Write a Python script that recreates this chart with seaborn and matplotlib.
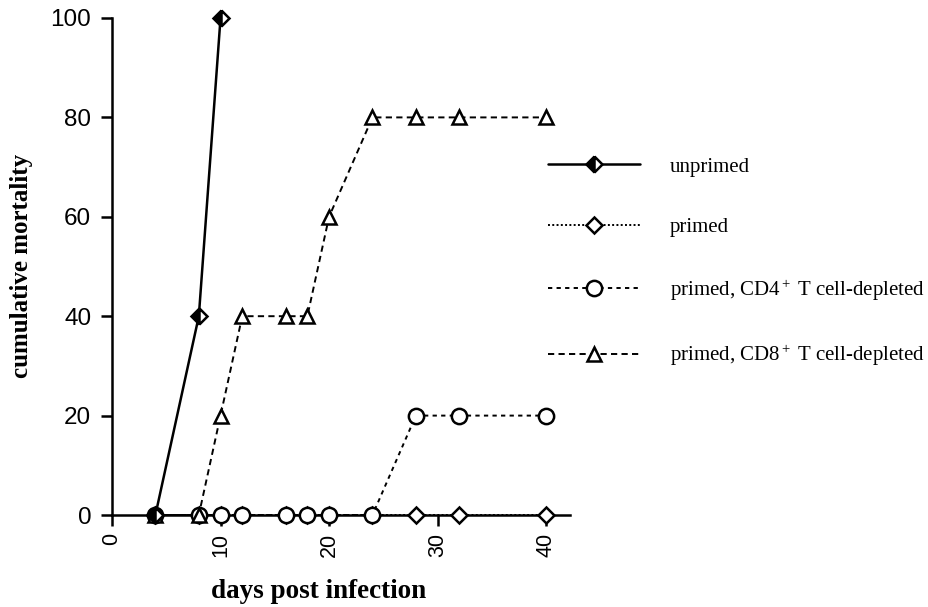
import matplotlib
matplotlib.use("Agg")
import matplotlib.pyplot as plt
import seaborn as sns
import pandas as pd

# ---- data ----
days_unprimed = [4, 8, 10]
mort_unprimed = [0, 40, 100]

days_primed = [4, 8, 10, 12, 16, 18, 20, 24, 28, 32, 40]
mort_primed = [0, 0, 0, 0, 0, 0, 0, 0, 0, 0, 0]

days_cd4 = [4, 8, 10, 12, 16, 18, 20, 24, 28, 32, 40]
mort_cd4 = [0, 0, 0, 0, 0, 0, 0, 0, 20, 20, 20]

days_cd8 = [4, 8, 10, 12, 16, 18, 20, 24, 28, 32, 40]
mort_cd8 = [0, 0, 20, 40, 40, 40, 60, 80, 80, 80, 80]

labels = ["unprimed", "primed",
          r"primed, CD4$^+$ T cell-depleted",
          r"primed, CD8$^+$ T cell-depleted"]
x_ticks = [0, 10, 20, 30, 40]
y_ticks = [0, 20, 40, 60, 80, 100]

sns.set_theme(style="white")
plt.rcParams["text.color"] = "black"
plt.rcParams["mathtext.fontset"] = "custom"
plt.rcParams["mathtext.rm"] = "Liberation Serif"
plt.rcParams["mathtext.it"] = "Liberation Serif:italic"
plt.rcParams["mathtext.bf"] = "Liberation Serif:bold"

fig = plt.figure(figsize=(9.29, 6.07), dpi=100)
ax = fig.add_axes([112/929, 1-515/607, (570-112)/929, (515-18)/607])

common = dict(color="black", markeredgecolor="black", markeredgewidth=1.8,
              clip_on=False, zorder=5, ax=ax, legend=False)

d1 = pd.DataFrame({"day": days_unprimed, "mort": mort_unprimed})
d2 = pd.DataFrame({"day": days_primed, "mort": mort_primed})
d3 = pd.DataFrame({"day": days_cd4, "mort": mort_cd4})
d4 = pd.DataFrame({"day": days_cd8, "mort": mort_cd8})

sns.lineplot(data=d2, x="day", y="mort", marker="D", markersize=8.5,
             markerfacecolor="white", linestyle=(0, (1, 1.2)), linewidth=1.4,
             label=labels[1], **common)
sns.lineplot(data=d3, x="day", y="mort", marker="o", markersize=11,
             markerfacecolor="white", linestyle=(0, (2.2, 2.2)), linewidth=1.4,
             label=labels[2], **common)
sns.lineplot(data=d4, x="day", y="mort", marker="^", markersize=10,
             markerfacecolor="white", linestyle=(0, (3.2, 2.2)), linewidth=1.4,
             label=labels[3], **common)
sns.lineplot(data=d1, x="day", y="mort", marker="D", markersize=8.5,
             markerfacecolor="black", markerfacecoloralt="white", fillstyle="left",
             linestyle="-", linewidth=1.8, label=labels[0], **common)

ax.set_xlim(0, 42.2)
ax.set_ylim(0, 100)
ax.set_xticks(x_ticks)
ax.set_yticks(y_ticks)
ax.set_xticklabels([str(v) for v in x_ticks], rotation=90, fontsize=15.5,
                   family="Liberation Sans")
ax.set_yticklabels([str(v) for v in y_ticks], fontsize=17.5, family="Liberation Sans")
ax.tick_params(axis="both", direction="out", length=8, width=1.8, color="black",
               pad=5, bottom=True, left=True, labelcolor="black")
ax.tick_params(axis="y", pad=7)
for side in ["top", "right"]:
    ax.spines[side].set_visible(False)
for side in ["left", "bottom"]:
    ax.spines[side].set_linewidth(1.8)
    ax.spines[side].set_color("black")
ax.set_facecolor("white")

ax.set_xlabel("")
ax.set_ylabel("")
fig.text(319/929, 1-591/607, "days post infection", family="Liberation Serif",
         fontweight="bold", fontsize=19.5, ha="center", va="center", color="black")
fig.text(22/929, 1-266/607, "cumulative mortality", family="Liberation Serif",
         fontweight="bold", fontsize=18, ha="center", va="center", rotation=90,
         color="black")

handles, labs = ax.get_legend_handles_labels()
order = [labs.index(l) for l in labels]
leg = fig.legend([handles[i] for i in order], [labs[i] for i in order],
                 loc="upper left", bbox_to_anchor=(548/929, 1-157/607),
                 frameon=False, borderpad=0, borderaxespad=0,
                 handlelength=4.4, handletextpad=1.45, labelspacing=1.95,
                 numpoints=1, labelcolor="black",
                 prop={"family": "Liberation Serif", "size": 15})

fig.savefig("out.png", dpi=100, facecolor="white")
